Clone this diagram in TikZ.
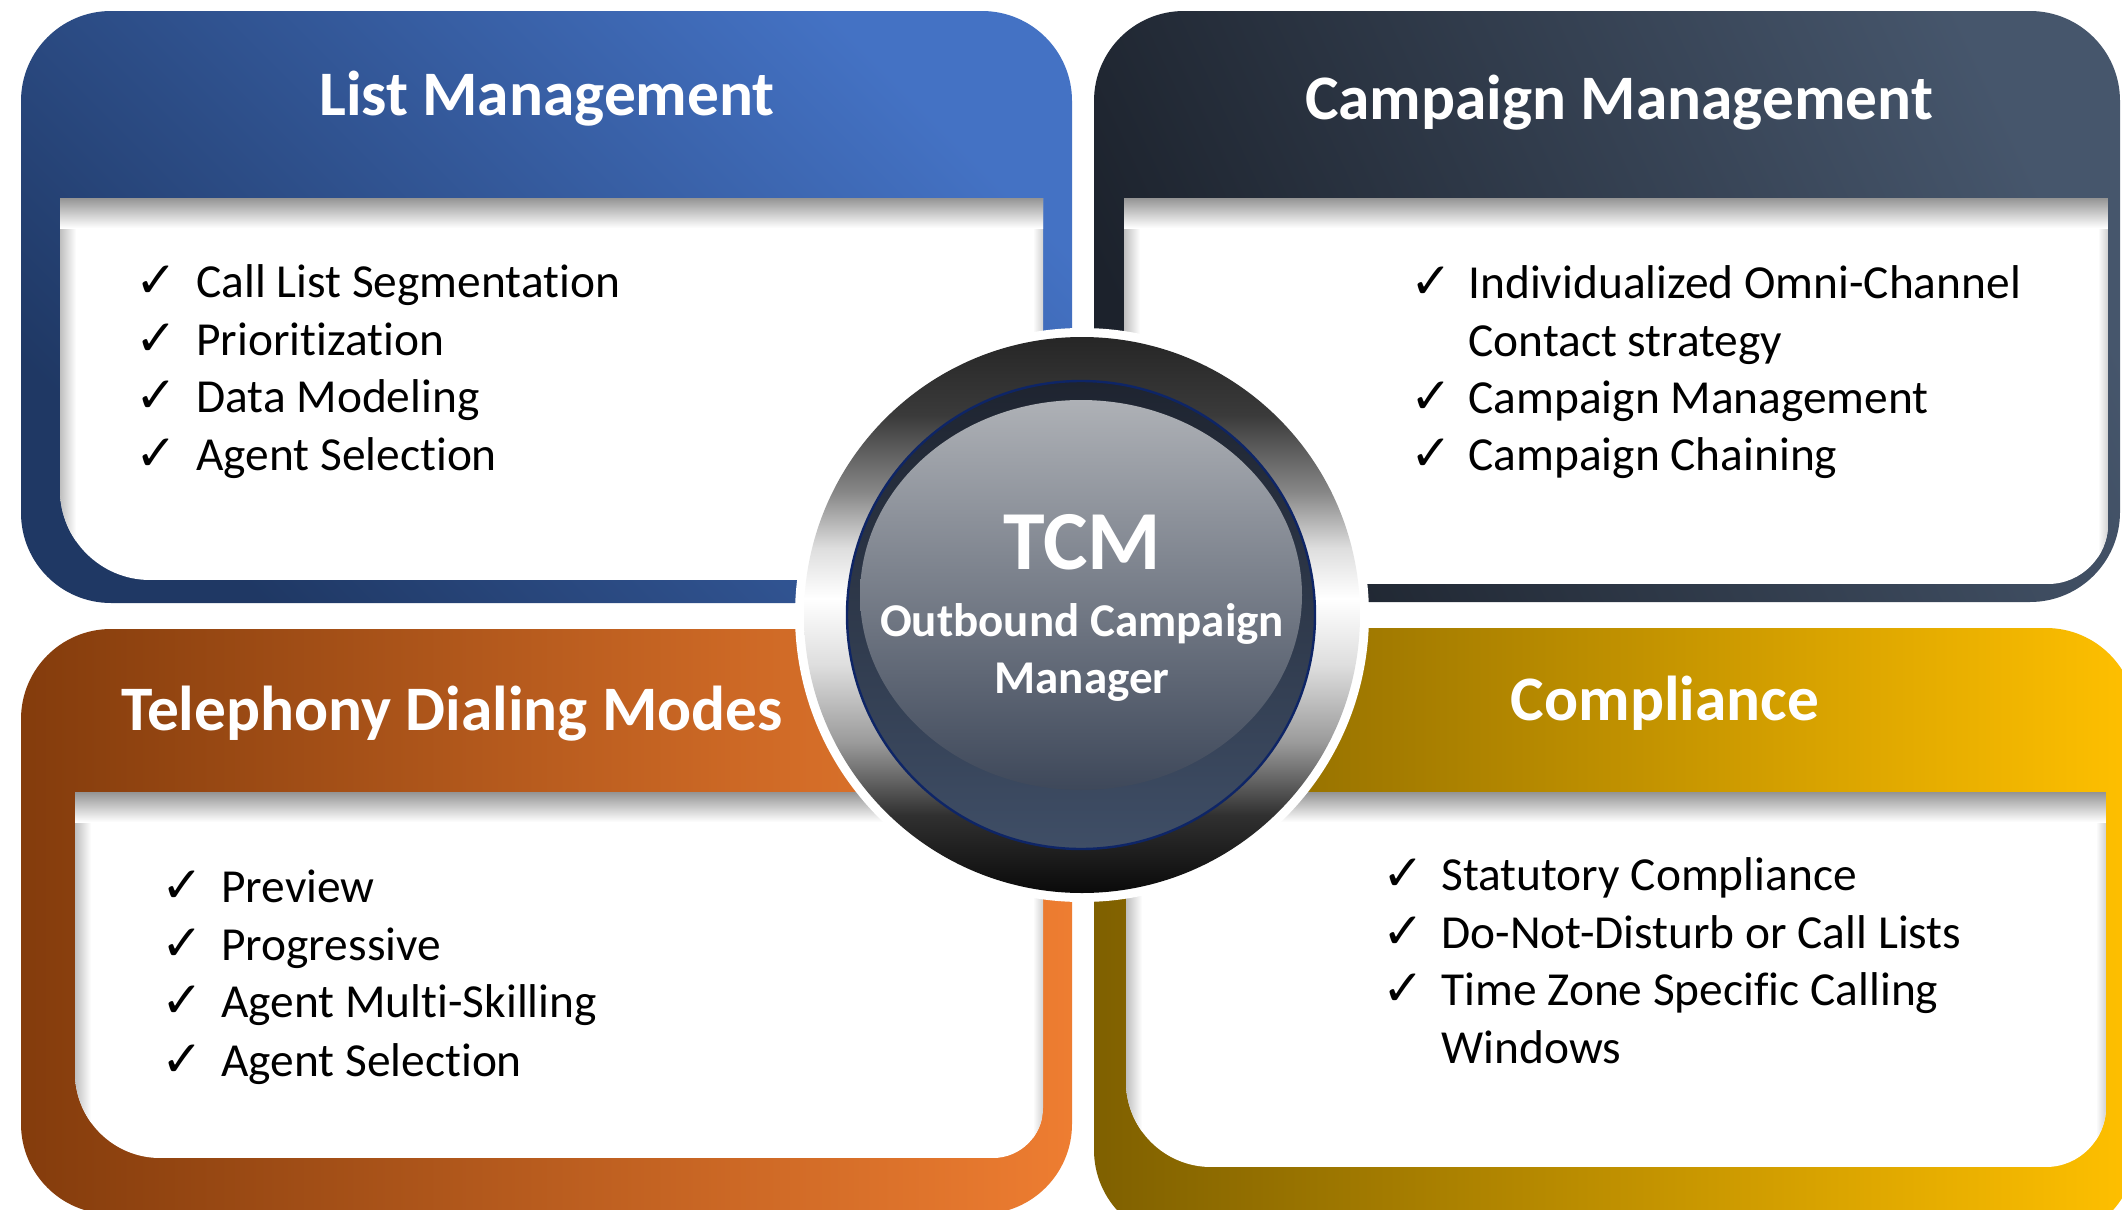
\documentclass[tikz,border=0pt]{standalone}
\usepackage{fontspec}
\setmainfont[Ligatures=NoCommon]{Carlito}
\newfontfamily\symf{DejaVu Sans}
\definecolor{tlA}{HTML}{4472C4}
\definecolor{tlB}{HTML}{1F3864}
\definecolor{trA}{HTML}{46566C}
\definecolor{trB}{HTML}{1C222C}
\definecolor{blA}{HTML}{843C0C}
\definecolor{blB}{HTML}{EE7D31}
\definecolor{brA}{HTML}{7F6000}
\definecolor{brB}{HTML}{FFC000}
\definecolor{rgA}{HTML}{0A0A0A}
\definecolor{rgB}{HTML}{303030}
\definecolor{rgC}{HTML}{9A9A9A}
\definecolor{rgD}{HTML}{DEDEDE}
\definecolor{rgE}{HTML}{888888}
\definecolor{rgF}{HTML}{3A3A3A}
\definecolor{rgG}{HTML}{262626}
\definecolor{dkTop}{HTML}{1E2430}
\definecolor{dkBot}{HTML}{3F4E66}
\definecolor{hlTop}{HTML}{AEB1B6}
\definecolor{hlMid}{HTML}{6B717B}
\definecolor{hlBot}{HTML}{3E485A}
\definecolor{navyline}{HTML}{0E2566}
\pgfdeclareverticalshading{ringshade}{100bp}{color(0bp)=(rgA); color(25bp)=(rgA); color(32bp)=(rgB); color(38.5bp)=(rgC); color(45.5bp)=(rgD); color(51.5bp)=(white); color(56bp)=(rgD); color(61bp)=(rgE); color(68bp)=(rgF); color(75bp)=(rgG); color(100bp)=(rgG)}
% panel: #1 x1, #2 y1, #3 x2, #4 y2, #5 radius bottom-left, #6 radius bottom-right
\newcommand\panelbox[6]{%
  \begin{scope}
  \path[clip] (#1,#2) -- (#3,#2) -- (#3,{#4-#6}) .. controls (#3,{#4-0.45*#6}) and ({#3-0.45*#6},#4) .. ({#3-#6},#4) -- ({#1+#5},#4) .. controls ({#1+0.45*#5},#4) and (#1,{#4-0.45*#5}) .. (#1,{#4-#5}) -- cycle;
  \fill[white] (#1,#2) rectangle (#3,#4);
  \shade[left color=black!25, right color=white] (#1,#2) rectangle ({#1+16},#4);
  \shade[left color=white, right color=black!18] ({#3-10},#2) rectangle (#3,#4);
  \shade[top color=black!42, bottom color=white] (#1,#2) rectangle (#3,{#2+30});
  \end{scope}}
\newcommand\checkrow[5]{%
  \node[ckmark] (#1c) at (#2,#5) {✓};
  \node[itemtext] (#1) at (#3,#5) {#4};}
\begin{document}
\begin{tikzpicture}[x=0.5pt,y=-0.5pt,
  ckmark/.style={anchor=base west, inner sep=0pt, font=\symf\fontsize{25}{28}\selectfont},
  itemtext/.style={anchor=base west, inner sep=0pt, font=\fontsize{23.7}{28}\selectfont},
  title/.style={anchor=base, inner sep=0pt, text=white, font=\bfseries\fontsize{31.7}{38}\selectfont},
  hubtext/.style={anchor=base, inner sep=0pt, text=white, font=\bfseries\fontsize{23.5}{28}\selectfont}]
\useasboundingbox (0,0) rectangle (2122,1210);
\clip (0,0) rectangle (2122,1210);
\fill[white] (0,0) rectangle (2122,1210);
% outer boxes
\shade[rounded corners=45pt, top color=tlA, bottom color=tlB, shading angle=-45] (21,11) rectangle (1072,603);
\shade[rounded corners=45pt, top color=trA, bottom color=trB, shading angle=-65] (1094,11) rectangle (2120,602);
\shade[rounded corners=45pt, left color=blA, right color=blB] (21,629) rectangle (1072,1214);
\shade[rounded corners=45pt, left color=brA, right color=brB] (1094,628) rectangle (2136,1240);
% inner panels
\panelbox{60}{198}{1043}{580}{90}{45}
\panelbox{1124}{198}{2108}{584}{90}{60}
\panelbox{75}{792}{1043}{1158}{85}{50}
\panelbox{1126}{792}{2106}{1167}{85}{60}
% titles
\node[title] (t1) at (547,115) {List Management};
\node[title] (t2) at (1619,119) {Campaign Management};
\node[title] (t3) at (452,730) {Telephony Dialing Modes};
\node[title] (t4) at (1665,720) {Compliance};
% items
\checkrow{a1}{135}{196}{Call List Segmentation}{297}
\checkrow{a2}{135}{196}{Prioritization}{355}
\checkrow{a3}{135}{196}{Data Modeling}{412}
\checkrow{a4}{135}{196}{Agent Selection}{470}
\checkrow{b1}{1410}{1468}{Individualized Omni-Channel}{298}
\node[itemtext] (b1x) at (1468,356) {Contact strategy};
\checkrow{b2}{1410}{1468}{Campaign Management}{413}
\checkrow{b3}{1410}{1468}{Campaign Chaining}{470}
\checkrow{c1}{161}{221}{Preview}{902}
\checkrow{c2}{161}{221}{Progressive}{960}
\checkrow{c3}{161}{221}{Agent Multi-Skilling}{1017}
\checkrow{c4}{161}{221}{Agent Selection}{1076}
\checkrow{d1}{1382}{1441}{Statutory Compliance}{890}
\checkrow{d2}{1382}{1441}{Do-Not-Disturb or Call Lists}{948}
\checkrow{d3}{1382}{1441}{Time Zone Specific Calling}{1005}
\node[itemtext] (d3x) at (1441,1063) {Windows};
% hub
\fill[white] (1082,615) circle (287);
\shade[shading=ringshade] (1082,615) circle (278);
\shade[top color=dkTop, bottom color=dkBot, draw=navyline, line width=1.2pt] (1081,615) circle (234);
\shade[top color=hlTop, middle color=hlMid, bottom color=hlBot] (1081,595) ellipse (221 and 195);
\node[hubtext, font=\bfseries\fontsize{42}{48}\selectfont] (h1) at (1082,569) {TCM};
\node[hubtext] (h2) at (1082,636) {Outbound Campaign};
\node[hubtext] (h3) at (1082,693) {Manager};
\end{tikzpicture}
\end{document}
